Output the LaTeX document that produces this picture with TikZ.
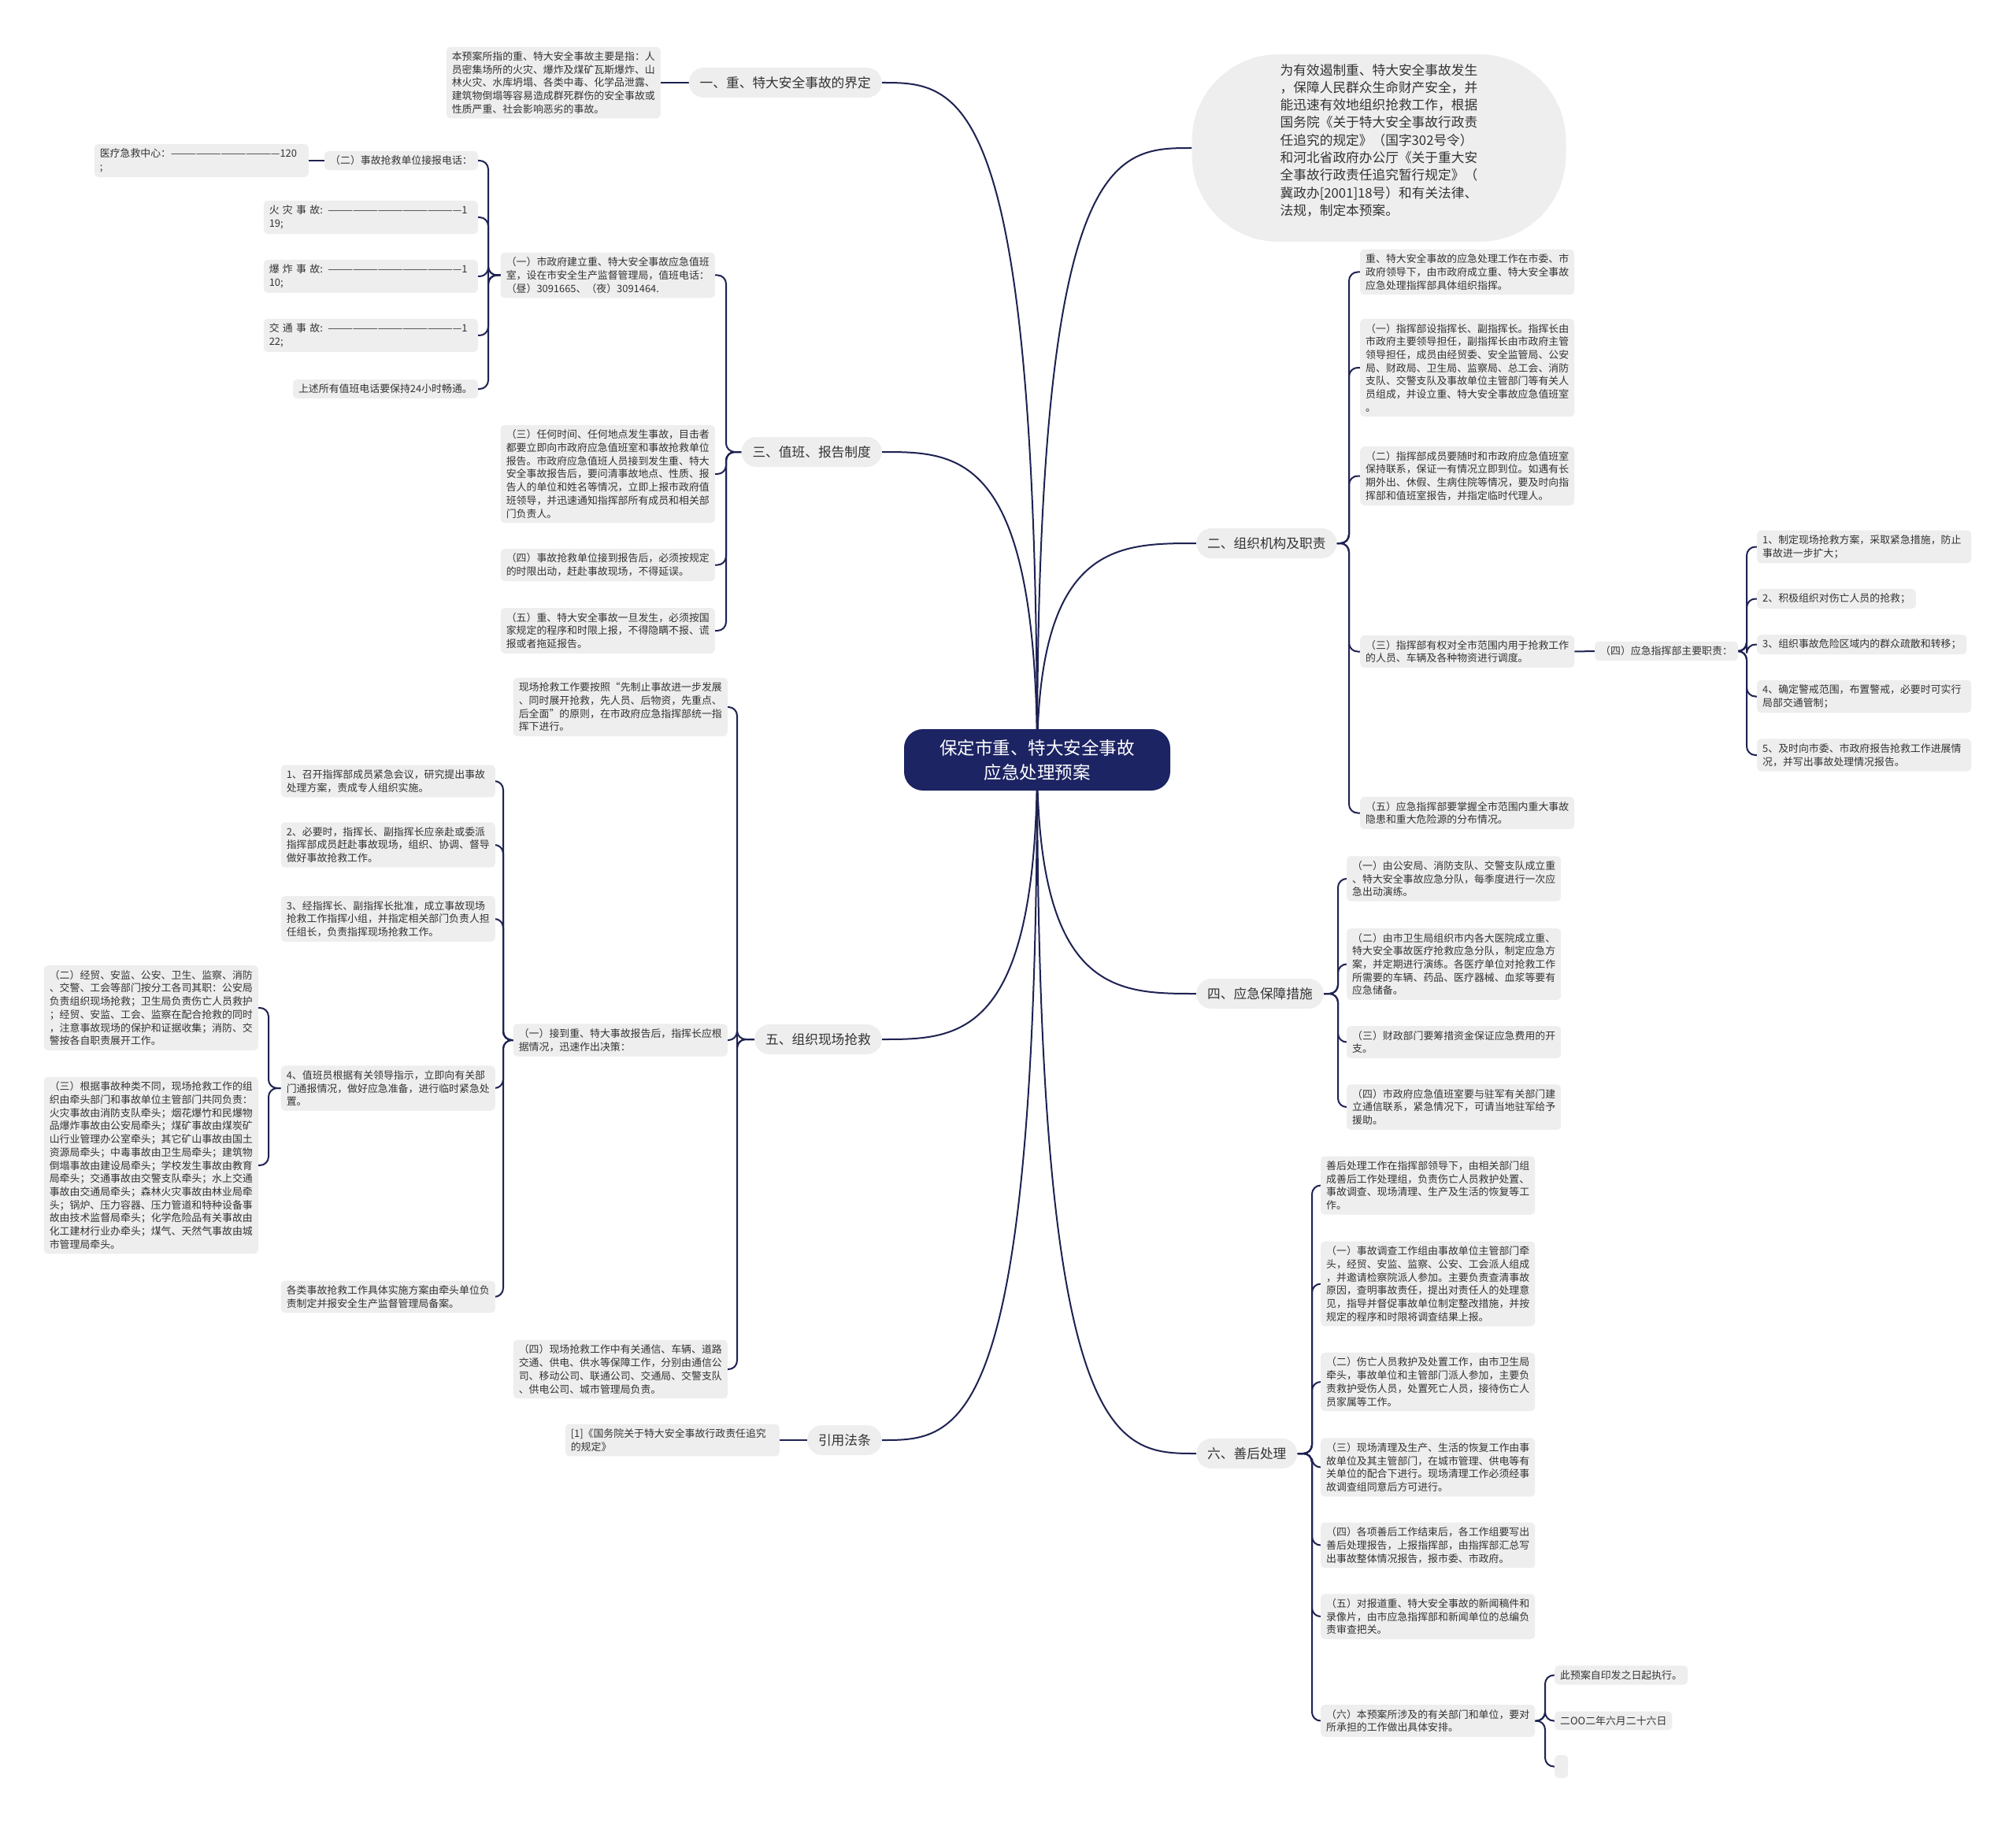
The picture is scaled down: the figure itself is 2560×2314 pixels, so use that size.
\documentclass[tikz,border=0pt]{standalone}
\usepackage{fontspec}
\setmainfont{Noto Sans CJK SC}
\usetikzlibrary{backgrounds}
\definecolor{navy}{HTML}{1C2463}
\definecolor{linec}{HTML}{1E2252}
\definecolor{boxg}{HTML}{EEEEEE}
\definecolor{txt}{HTML}{333333}
\tikzset{
 leaf/.style={fill=boxg, rounded corners=5pt, text=txt, font=\fontsize{12.9}{16.7}\selectfont, align=left, inner xsep=7pt, inner ysep=6pt},
 std/.style={leaf, text width=258pt},
 lvl/.style={fill=boxg, rounded corners=19pt, text=txt, font=\fontsize{16.7}{20}\selectfont, inner xsep=14pt, minimum height=38pt},
 conn/.style={draw=linec, line width=2pt, rounded corners=11pt},
}
\begin{document}
\begin{tikzpicture}[x=1pt,y=-1pt]
\useasboundingbox (0,0) rectangle (2560,2314);
% center
\node[fill=navy, text=white, rounded corners=24pt, minimum width=338pt, minimum height=78pt, align=center, font=\fontsize{22.5}{31}\selectfont] (c) at (1317,965) {保定市重、特大安全事故\\应急处理预案};
% intro
\node[fill=boxg, rounded corners=110pt, minimum width=475pt, minimum height=238pt] (intro) at (1751,188) {};
\node[align=left, text=txt, font=\fontsize{16.7}{22.3}\selectfont] (introtext) at ([yshift=10pt]intro.center) {为有效遏制重、特大安全事故发生\\，保障人民群众生命财产安全，并\\能迅速有效地组织抢救工作，根据\\国务院《关于特大安全事故行政责\\任追究的规定》（国字302号令）\\和河北省政府办公厅《关于重大安\\全事故行政责任追究暂行规定》（\\冀政办[2001]18号）和有关法律、\\法规，制定本预案。};
% section 1
\node[lvl, anchor=east] (s1) at (1120,105) {一、重、特大安全事故的界定};
\node[std, anchor=east] (s1a) at (839,105) {本预案所指的重、特大安全事故主要是指：人\\员密集场所的火灾、爆炸及煤矿瓦斯爆炸、山\\林火灾、水库坍塌、各类中毒、化学品泄露、\\建筑物倒塌等容易造成群死群伤的安全事故或\\性质严重、社会影响恶劣的事故。};
% section 3
\node[lvl, anchor=east] (s3) at (1120,574) {三、值班、报告制度};
\node[std, anchor=east] (s3a) at (908,349.5) {（一）市政府建立重、特大安全事故应急值班\\室，设在市安全生产监督管理局，值班电话：\\（昼）3091665、（夜）3091464.};
\node[std, anchor=east] (s3b) at (908,602) {（三）任何时间、任何地点发生事故，目击者\\都要立即向市政府应急值班室和事故抢救单位\\报告。市政府应急值班人员接到发生重、特大\\安全事故报告后，要问清事故地点、性质、报\\告人的单位和姓名等情况，立即上报市政府值\\班领导，并迅速通知指挥部所有成员和相关部\\门负责人。};
\node[std, anchor=east] (s3c) at (908,717.5) {（四）事故抢救单位接到报告后，必须按规定\\的时限出动，赶赴事故现场，不得延误。};
\node[std, anchor=east] (s3d) at (908,801) {（五）重、特大安全事故一旦发生，必须按国\\家规定的程序和时限上报，不得隐瞒不报、谎\\报或者拖延报告。};
\node[leaf, anchor=east] (s3a1) at (607,204) {（二）事故抢救单位接报电话：};
\node[std, anchor=east] (s3a1a) at (392,204) {\mbox{医疗急救中心：—————————————120}\\;};
\node[std, anchor=east] (s3a2) at (607,276) {\mbox{火 灾 事 故: ————————————————1}\\19;};
\node[std, anchor=east] (s3a3) at (607,351) {\mbox{爆 炸 事 故: ————————————————1}\\10;};
\node[std, anchor=east] (s3a4) at (607,426) {\mbox{交 通 事 故: ————————————————1}\\22;};
\node[leaf, anchor=east] (s3a5) at (607,494) {上述所有值班电话要保持24小时畅通。};
% section 5
\node[lvl, anchor=east] (s5) at (1120,1320) {五、组织现场抢救};
\node[std, anchor=east] (s5a) at (924,898) {现场抢救工作要按照“先制止事故进一步发展\\、同时展开抢救，先人员、后物资，先重点、\\后全面”的原则，在市政府应急指挥部统一指\\挥下进行。};
\node[std, anchor=east] (s5b) at (924,1321) {（一）接到重、特大事故报告后，指挥长应根\\据情况，迅速作出决策：};
\node[std, anchor=east] (s5c) at (924,1739) {（四）现场抢救工作中有关通信、车辆、道路\\交通、供电、供水等保障工作，分别由通信公\\司、移动公司、联通公司、交通局、交警支队\\、供电公司、城市管理局负责。};
\node[std, anchor=east] (s5b1) at (629,992) {1、召开指挥部成员紧急会议，研究提出事故\\处理方案，责成专人组织实施。};
\node[std, anchor=east] (s5b2) at (629,1073) {2、必要时，指挥长、副指挥长应亲赴或委派\\指挥部成员赶赴事故现场，组织、协调、督导\\做好事故抢救工作。};
\node[std, anchor=east] (s5b3) at (629,1167) {3、经指挥长、副指挥长批准，成立事故现场\\抢救工作指挥小组，并指定相关部门负责人担\\任组长，负责指挥现场抢救工作。};
\node[std, anchor=east] (s5b4) at (629,1382) {4、值班员根据有关领导指示，立即向有关部\\门通报情况，做好应急准备，进行临时紧急处\\置。};
\node[std, anchor=east] (s5b5) at (629,1647) {各类事故抢救工作具体实施方案由牵头单位负\\责制定并报安全生产监督管理局备案。};
\node[std, anchor=east] (s5b4a) at (328,1280) {（二）经贸、安监、公安、卫生、监察、消防\\、交警、工会等部门按分工各司其职：公安局\\负责组织现场抢救；卫生局负责伤亡人员救护\\；经贸、安监、工会、监察在配合抢救的同时\\，注意事故现场的保护和证据收集；消防、交\\警按各自职责展开工作。};
\node[std, anchor=east] (s5b4b) at (328,1480) {（三）根据事故种类不同，现场抢救工作的组\\织由牵头部门和事故单位主管部门共同负责：\\火灾事故由消防支队牵头；烟花爆竹和民爆物\\品爆炸事故由公安局牵头；煤矿事故由煤炭矿\\山行业管理办公室牵头；其它矿山事故由国土\\资源局牵头；中毒事故由卫生局牵头；建筑物\\倒塌事故由建设局牵头；学校发生事故由教育\\局牵头；交通事故由交警支队牵头；水上交通\\事故由交通局牵头；森林火灾事故由林业局牵\\头；锅炉、压力容器、压力管道和特种设备事\\故由技术监督局牵头；化学危险品有关事故由\\化工建材行业办牵头；煤气、天然气事故由城\\市管理局牵头。};
% reference
\node[lvl, anchor=east] (sref) at (1120,1829) {引用法条};
\node[std, anchor=east] (ref1) at (990,1829) {[1]《国务院关于特大安全事故行政责任追究\\的规定》};
% section 2
\node[lvl, anchor=west] (s2) at (1519,690) {二、组织机构及职责};
\node[std, anchor=west] (s2a) at (1727,345.5) {重、特大安全事故的应急处理工作在市委、市\\政府领导下，由市政府成立重、特大安全事故\\应急处理指挥部具体组织指挥。};
\node[std, anchor=west] (s2b) at (1727,467) {（一）指挥部设指挥长、副指挥长。指挥长由\\市政府主要领导担任，副指挥长由市政府主管\\领导担任，成员由经贸委、安全监管局、公安\\局、财政局、卫生局、监察局、总工会、消防\\支队、交警支队及事故单位主管部门等有关人\\员组成，并设立重、特大安全事故应急值班室\\。};
\node[std, anchor=west] (s2c) at (1727,604.5) {（二）指挥部成员要随时和市政府应急值班室\\保持联系，保证一有情况立即到位。如遇有长\\期外出、休假、生病住院等情况，要及时向指\\挥部和值班室报告，并指定临时代理人。};
\node[std, anchor=west] (s2d) at (1727,827.5) {（三）指挥部有权对全市范围内用于抢救工作\\的人员、车辆及各种物资进行调度。};
\node[std, anchor=west] (s2e) at (1727,1032.5) {（五）应急指挥部要掌握全市范围内重大事故\\隐患和重大危险源的分布情况。};
\node[leaf, anchor=west] (s2d1) at (2025,827) {（四）应急指挥部主要职责：};
\node[std, anchor=west] (s2d1a) at (2231,694.5) {1、制定现场抢救方案，采取紧急措施，防止\\事故进一步扩大；};
\node[leaf, anchor=west] (s2d1b) at (2231,760.5) {2、积极组织对伤亡人员的抢救；};
\node[leaf, anchor=west] (s2d1c) at (2231,818.5) {3、组织事故危险区域内的群众疏散和转移；};
\node[std, anchor=west] (s2d1d) at (2231,884.5) {4、确定警戒范围，布置警戒，必要时可实行\\局部交通管制；};
\node[std, anchor=west] (s2d1e) at (2231,959) {5、及时向市委、市政府报告抢救工作进展情\\况，并写出事故处理情况报告。};
% section 4
\node[lvl, anchor=west] (s4) at (1519,1262) {四、应急保障措施};
\node[std, anchor=west] (s4a) at (1710,1116) {（一）由公安局、消防支队、交警支队成立重\\、特大安全事故应急分队，每季度进行一次应\\急出动演练。};
\node[std, anchor=west] (s4b) at (1710,1224.5) {（二）由市卫生局组织市内各大医院成立重、\\特大安全事故医疗抢救应急分队，制定应急方\\案，并定期进行演练。各医疗单位对抢救工作\\所需要的车辆、药品、医疗器械、血浆等要有\\应急储备。};
\node[std, anchor=west] (s4c) at (1710,1323.5) {（三）财政部门要筹措资金保证应急费用的开\\支。};
\node[std, anchor=west] (s4d) at (1710,1406) {（四）市政府应急值班室要与驻军有关部门建\\立通信联系，紧急情况下，可请当地驻军给予\\援助。};
% section 6
\node[lvl, anchor=west] (s6) at (1519,1846) {六、善后处理};
\node[std, anchor=west] (s6a) at (1677,1505.5) {善后处理工作在指挥部领导下，由相关部门组\\成善后工作处理组，负责伤亡人员救护处置、\\事故调查、现场清理、生产及生活的恢复等工\\作。};
\node[std, anchor=west] (s6b) at (1677,1630.5) {（一）事故调查工作组由事故单位主管部门牵\\头，经贸、安监、监察、公安、工会派人组成\\，并邀请检察院派人参加。主要负责查清事故\\原因，查明事故责任，提出对责任人的处理意\\见，指导并督促事故单位制定整改措施，并按\\规定的程序和时限将调查结果上报。};
\node[std, anchor=west] (s6c) at (1677,1755) {（二）伤亡人员救护及处置工作，由市卫生局\\牵头，事故单位和主管部门派人参加，主要负\\责救护受伤人员，处置死亡人员，接待伤亡人\\员家属等工作。};
\node[std, anchor=west] (s6d) at (1677,1863.5) {（三）现场清理及生产、生活的恢复工作由事\\故单位及其主管部门，在城市管理、供电等有\\关单位的配合下进行。现场清理工作必须经事\\故调查组同意后方可进行。};
\node[std, anchor=west] (s6e) at (1677,1962.5) {（四）各项善后工作结束后，各工作组要写出\\善后处理报告，上报指挥部，由指挥部汇总写\\出事故整体情况报告，报市委、市政府。};
\node[std, anchor=west] (s6f) at (1677,2053) {（五）对报道重、特大安全事故的新闻稿件和\\录像片，由市应急指挥部和新闻单位的总编负\\责审查把关。};
\node[std, anchor=west] (s6g) at (1677,2185.5) {（六）本预案所涉及的有关部门和单位，要对\\所承担的工作做出具体安排。};
\node[leaf, anchor=west] (s6g1) at (1974,2127.5) {此预案自印发之日起执行。};
\node[leaf, anchor=west] (s6g2) at (1974,2185.5) {二OO二年六月二十六日};
\node[leaf, anchor=west, minimum width=17pt, minimum height=29pt, inner sep=0pt] (s6g3) at (1974,2243.5) {};
% connectors
\begin{scope}[on background layer]
\fill[white] (0,0) rectangle (2560,2314);
\draw[conn] (c.center) .. controls (1317,105) and (1218,105) .. (s1.east);
\draw[conn] (c.center) .. controls (1317,188) and (1415,188) .. (intro.west);
\draw[conn] (c.center) .. controls (1317,690) and (1418,690) .. (s2.west);
\draw[conn] (c.center) .. controls (1317,574) and (1218,574) .. (s3.east);
\draw[conn] (c.center) .. controls (1317,1262) and (1418,1262) .. (s4.west);
\draw[conn] (c.center) .. controls (1317,1320) and (1218,1320) .. (s5.east);
\draw[conn] (c.center) .. controls (1317,1829) and (1218,1829) .. (sref.east);
\draw[conn] (c.center) .. controls (1317,1846) and (1418,1846) .. (s6.west);
% section 1
\draw[conn] (s1.west) -- (s1a.east);
% section 3
\foreach \n in {s3a,s3b,s3c,s3d} \draw[conn] (s3.west) -- (922,574) |- (\n.east);
\foreach \n in {s3a1,s3a2,s3a3,s3a4,s3a5} \draw[conn] (s3a.west) -- (620,349.5) |- (\n.east);
\draw[conn] (s3a1.west) -- (s3a1a.east);
% section 5
\foreach \n in {s5a,s5b,s5c} \draw[conn] (s5.west) -- (936,1320) |- (\n.east);
\foreach \n in {s5b1,s5b2,s5b3,s5b4,s5b5} \draw[conn] (s5b.west) -- (639,1321) |- (\n.east);
\foreach \n in {s5b4a,s5b4b} \draw[conn] (s5b4.west) -- (341,1382) |- (\n.east);
% ref
\draw[conn] (sref.west) -- (ref1.east);
% section 2
\foreach \n in {s2a,s2b,s2c,s2d,s2e} \draw[conn] (s2.east) -- (1713,690) |- (\n.west);
\draw[conn] (s2d.east) -- (s2d1.west);
\foreach \n in {s2d1a,s2d1b,s2d1c,s2d1d,s2d1e} \draw[conn] (s2d1.east) -- (2218,827) |- (\n.west);
% section 4
\foreach \n in {s4a,s4b,s4c,s4d} \draw[conn] (s4.east) -- (1699,1262) |- (\n.west);
% section 6
\foreach \n in {s6a,s6b,s6c,s6d,s6e,s6f,s6g} \draw[conn] (s6.east) -- (1666,1846) |- (\n.west);
\foreach \n in {s6g1,s6g2,s6g3} \draw[conn] (s6g.east) -- (1962,2185.5) |- (\n.west);
\end{scope}
\end{tikzpicture}
\end{document}
